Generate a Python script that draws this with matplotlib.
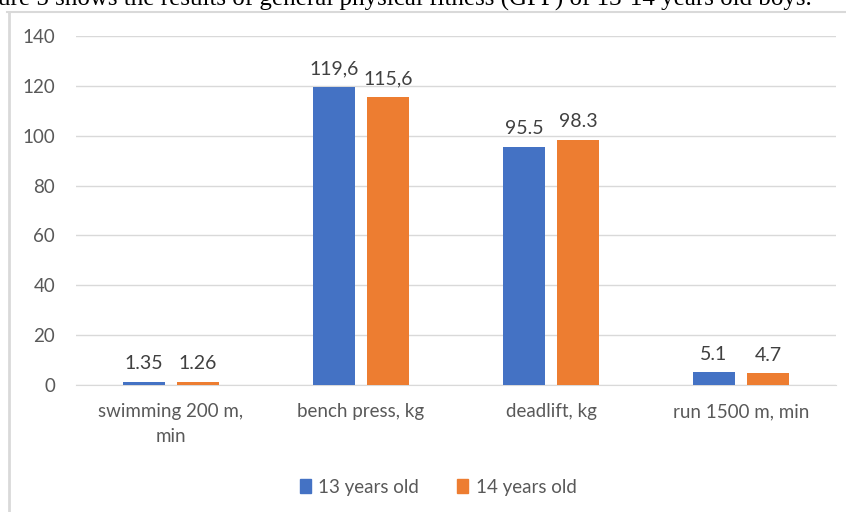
import matplotlib
matplotlib.use("Agg")
import matplotlib.pyplot as plt
import numpy as np
from matplotlib.patches import Rectangle
from matplotlib.lines import Line2D

categories = ["swimming 200 m,\nmin", "bench press, kg", "deadlift, kg", "run 1500 m, min"]
series_names = ["13 years old", "14 years old"]
values_13 = [1.35, 119.6, 95.5, 5.1]
values_14 = [1.26, 115.6, 98.3, 4.7]
labels_13 = ["1.35", "119,6", "95.5", "5.1"]
labels_14 = ["1.26", "115,6", "98.3", "4.7"]
y_ticks = [0, 20, 40, 60, 80, 100, 120, 140]

BLUE = "#4472C4"
ORANGE = "#ED7D31"
GRID = "#D9D9D9"
TICK = "#595959"
LABEL = "#404040"
FONT = ["Lato", "DejaVu Sans"]

W, H = 846, 512
fig = plt.figure(figsize=(W / 100, H / 100), dpi=100)

# caption line running above the chart frame
fig.text(-2 / W, 1 - 6 / H, "ure 5 shows the results of general physical fitness (GPF) of 13-14 years old boys.",
         family=["Liberation Serif"], fontsize=18, color="black", ha="left", va="baseline")

# chart frame (top and left edges)
fig.add_artist(Line2D([7 / W, 1], [1 - 12 / H, 1 - 12 / H], transform=fig.transFigure,
                      color=GRID, lw=1.5))
fig.add_artist(Line2D([9 / W, 9 / W], [0, 1 - 12 / H], transform=fig.transFigure,
                      color=GRID, lw=2))

ax = fig.add_axes([76 / W, 127 / H, 760 / W, 349 / H])
x = np.arange(len(categories))
bw = 0.22
off = 0.142
b1 = ax.bar(x - off, values_13, bw, color=BLUE, zorder=3)
b2 = ax.bar(x + off, values_14, bw, color=ORANGE, zorder=3)

for bars, labs in ((b1, labels_13), (b2, labels_14)):
    for bar, lab in zip(bars, labs):
        ax.annotate(lab, (bar.get_x() + bar.get_width() / 2, bar.get_height()),
                    xytext=(0, 7), textcoords="offset points", ha="center", va="bottom",
                    family=FONT, fontsize=14, color=LABEL)

ax.set_xlim(-0.5, len(categories) - 0.5)
ax.set_ylim(0, 140)
ax.set_yticks(y_ticks)
ax.set_yticklabels([str(t) for t in y_ticks], family=FONT, fontsize=13.5, color=TICK)
ax.set_xticks(x)
ax.set_xticklabels(categories, family=FONT, fontsize=13.5, color=TICK, linespacing=1.55)
ax.tick_params(axis="y", length=0, pad=15)
ax.tick_params(axis="x", length=0, pad=13)
ax.grid(axis="y", color=GRID, lw=1, zorder=0)
for s in ("top", "right", "left"):
    ax.spines[s].set_visible(False)
ax.spines["bottom"].set_color(GRID)

handles = [Rectangle((0, 0), 1, 1, color=BLUE), Rectangle((0, 0), 1, 1, color=ORANGE)]
fig.legend(handles, series_names, loc="center", bbox_to_anchor=(438 / W, 1 - 487 / H),
           ncol=2, frameon=False, prop={"family": FONT, "size": 13.5},
           labelcolor=TICK, handlelength=0.6, handleheight=0.7, handletextpad=0.4,
           columnspacing=2.0)

fig.savefig("out.png", dpi=100)
